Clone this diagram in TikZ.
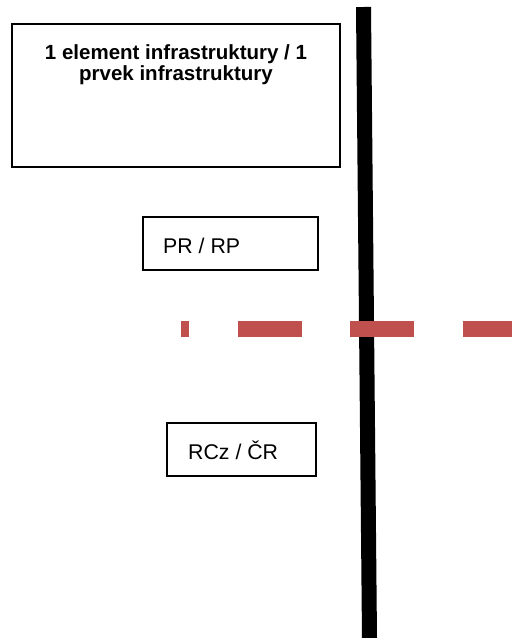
\documentclass[tikz,border=0pt]{standalone}
\usepackage{fontspec}
\setmainfont{Liberation Sans}
\usepackage{xcolor}
\usepackage{tikz}
\definecolor{dashred}{RGB}{192,80,77}

\begin{document}
\begin{tikzpicture}[x=1pt,y=-1pt]
    % Define dimensions
    \def\barwidth{15}     % Black vertical bar width
    \def\dashwidth{16}    % Red dashed line width
    \def\boxline{1.5}     % Box border width
    \useasboundingbox (0,0) rectangle (512,638);

    % Black vertical bar
    \draw[line width=\barwidth pt] (363.5,7) -- (369.5,638);

    % Red dashed line (over the bar)
    \draw[dashred, line width=\dashwidth pt, dash pattern=on 64pt off 48.5pt, dash phase=56pt] (181,329) -- (512,329);

    % Infrastructure element box
    \draw[line width=\boxline pt] (12,24) rectangle (340,167);
    \node[anchor=north, inner sep=0, align=center, font=\bfseries\fontsize{20.5}{21}\selectfont] (infra) at (176,44.5) {1 element infrastruktury / 1\\prvek infrastruktury};

    % PR / RP box
    \draw[line width=\boxline pt] (143,217) rectangle (318,270);
    \node[anchor=base west, inner sep=0, font=\fontsize{21.3}{25}\selectfont] (pr) at (163,253) {PR / RP};

    % RCz / CR box
    \draw[line width=\boxline pt] (167,423) rectangle (316,476);
    \node[anchor=base west, inner sep=0, font=\fontsize{21.3}{25}\selectfont] (rcz) at (188,459) {RCz / ČR};
\end{tikzpicture}
\end{document}
